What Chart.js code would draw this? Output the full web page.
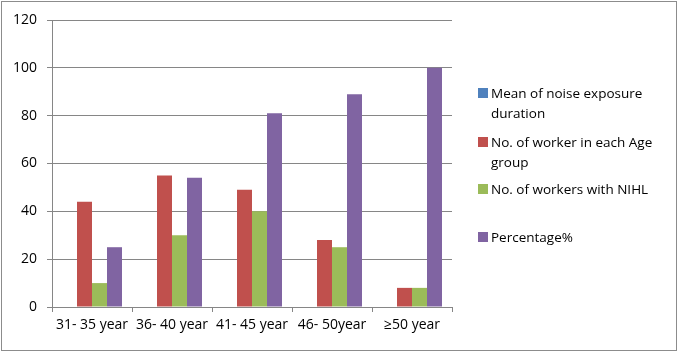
<!DOCTYPE html>
<html>
<head>
<meta charset="utf-8">
<script src="https://cdn.jsdelivr.net/npm/chart.js@4"></script>
<style>
  body { margin: 0; background: #fff; }
  #wrap { position: relative; width: 678px; height: 353px; }
  #frame { position: absolute; left: 1px; top: 1px; width: 674px; height: 348px; border: 1px solid #8c8c8c; pointer-events: none; }
  #legend { position: absolute; left: 478px; top: 0; font-family: "Open Sans", sans-serif; font-size: 13.5px; color: #000; }
  .item { position: absolute; left: 0; width: 175px; line-height: 20px; padding-left: 13px; white-space: normal; }
  .sw { position: absolute; left: 0; top: 5px; width: 10px; height: 10px; }
</style>
</head>
<body>
<div id="wrap">
  <canvas id="myChart" width="678" height="353"></canvas>
  <div id="legend"></div>
  <div id="frame"></div>
</div>
<script>
const categories = ['31- 35 year', '36- 40 year', '41- 45 year', '46- 50year', '≥50 year'];
const meanExposure = [0, 0, 0, 0, 0];
const workersPerAge = [44, 55, 49, 28, 8];
const workersNihl = [10, 30, 40, 25, 8];
const percentage = [25, 54, 81, 89, 100];
const yTicks = [0, 20, 40, 60, 80, 100, 120];

const seriesNames = ['Mean of noise exposure duration', 'No. of worker in each Age group', 'No. of workers with NIHL', 'Percentage%'];
const colors = ['#4f81bd', '#c0504d', '#9bbb59', '#8064a2'];
const legendTops = [83, 132, 179, 227];

const font = { family: '"Open Sans", sans-serif', size: 14 };

const ctx = document.getElementById('myChart').getContext('2d');
const chart = new Chart(ctx, {
    type: 'bar',
    data: {
        labels: categories,
        datasets: [meanExposure, workersPerAge, workersNihl, percentage].map((d, i) => ({
            label: seriesNames[i],
            data: d,
            backgroundColor: colors[i],
            borderWidth: 0,
            categoryPercentage: 0.75,
            barPercentage: 1
        }))
    },
    options: {
        responsive: false,
        animation: false,
        layout: { padding: { top: 20, right: 226, left: 0, bottom: 0 } },
        plugins: { legend: { display: false }, tooltip: { enabled: false } },
        scales: {
            x: {
                grid: { display: true, drawOnChartArea: false, color: '#868686', tickLength: 5, offset: true },
                border: { color: '#868686' },
                ticks: { color: '#000', font: font, padding: 5 },
                afterFit: s => { s.height = 46; }
            },
            y: {
                min: 0, max: 120,
                afterBuildTicks: s => { s.ticks = yTicks.map(v => ({ value: v })); },
                grid: { color: '#868686', tickLength: 5 },
                border: { color: '#868686' },
                ticks: { color: '#000', font: font, padding: 10 },
                afterFit: s => { s.width = 52; }
            }
        }
    }
});

const legend = document.getElementById('legend');
seriesNames.forEach((name, i) => {
    const item = document.createElement('div');
    item.className = 'item';
    item.style.top = legendTops[i] + 'px';
    item.innerHTML = '<span class="sw" style="background:' + colors[i] + '"></span>' + name;
    legend.appendChild(item);
});
</script>
</body>
</html>
